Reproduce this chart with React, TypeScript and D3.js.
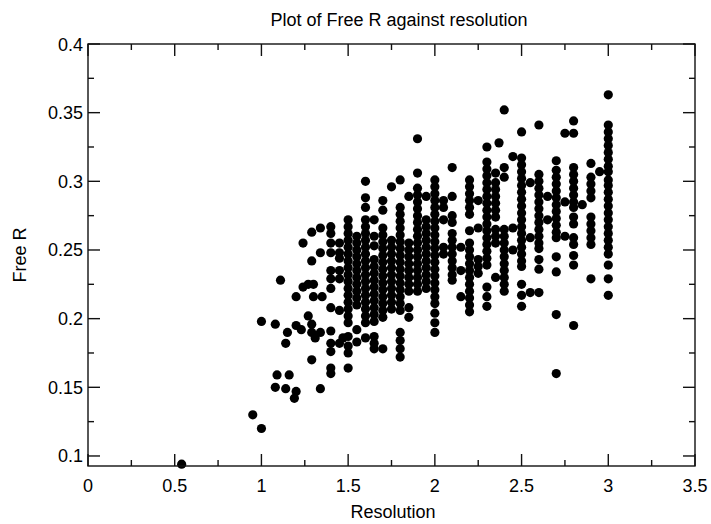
import React, { useEffect, useRef } from "react";
import * as d3 from "d3";

// isolated points [resolution, free R]
const scatterPoints: [number, number][] = [
  [0.54, 0.094], [0.95, 0.130], [1.0, 0.120],
  [1.0, 0.198], [1.08, 0.196], [1.15, 0.190], [1.14, 0.182], [1.2, 0.195], [1.23, 0.192],
  [1.11, 0.228], [1.09, 0.159], [1.16, 0.159], [1.08, 0.150], [1.14, 0.149], [1.2, 0.147],
  [1.19, 0.142], [1.34, 0.149],
  [1.24, 0.255], [1.29, 0.263], [1.34, 0.266], [1.34, 0.248], [1.29, 0.242],
  [1.24, 0.223], [1.27, 0.225], [1.3, 0.225], [1.2, 0.216], [1.3, 0.216], [1.35, 0.216],
  [1.27, 0.202], [1.29, 0.196], [1.29, 0.190], [1.34, 0.190], [1.31, 0.186], [1.29, 0.170],
  [1.45, 0.255], [1.45, 0.248], [1.45, 0.244], [1.45, 0.235], [1.45, 0.229],
  [1.45, 0.206], [1.45, 0.182], [1.47, 0.186], [2.37, 0.328],
];

// resolution of each stacked column
const stackRes = [
  1.4, 1.5, 1.55, 1.6, 1.65, 1.7, 1.75, 1.8, 1.85, 1.9, 1.95, 2.0, 2.05, 2.1, 2.15,
  2.2, 2.25, 2.3, 2.35, 2.4, 2.45, 2.5, 2.55, 2.6, 2.65, 2.7, 2.75, 2.8, 2.85, 2.9, 2.95, 3.0,
];

// free R values in each column
const stackR: number[][] = [
  [0.267, 0.262, 0.255, 0.248, 0.235, 0.229, 0.222, 0.208, 0.191, 0.182, 0.176, 0.164, 0.160],
  [0.272, 0.267, 0.262, 0.257, 0.252, 0.247, 0.242, 0.237, 0.232, 0.227, 0.222, 0.217, 0.212, 0.207, 0.202, 0.197, 0.187, 0.180, 0.175, 0.164],
  [0.260, 0.255, 0.250, 0.245, 0.240, 0.235, 0.230, 0.225, 0.220, 0.215, 0.210, 0.192, 0.183],
  [0.300, 0.288, 0.281, 0.272, 0.267, 0.262, 0.257, 0.252, 0.247, 0.242, 0.237, 0.232, 0.227, 0.222, 0.217, 0.212, 0.207, 0.202, 0.197, 0.186],
  [0.272, 0.260, 0.253, 0.243, 0.238, 0.233, 0.228, 0.223, 0.218, 0.213, 0.208, 0.203, 0.198, 0.187, 0.182, 0.178],
  [0.286, 0.279, 0.266, 0.261, 0.256, 0.251, 0.246, 0.241, 0.236, 0.231, 0.226, 0.221, 0.216, 0.211, 0.206, 0.201, 0.178],
  [0.296, 0.257, 0.252, 0.247, 0.242, 0.237, 0.232, 0.227, 0.222, 0.217, 0.212, 0.207],
  [0.301, 0.281, 0.276, 0.271, 0.266, 0.261, 0.256, 0.251, 0.246, 0.241, 0.236, 0.231, 0.226, 0.221, 0.216, 0.211, 0.206, 0.190, 0.184, 0.178, 0.172],
  [0.289, 0.255, 0.250, 0.245, 0.240, 0.235, 0.230, 0.225, 0.220, 0.208, 0.201],
  [0.331, 0.306, 0.295, 0.290, 0.285, 0.280, 0.275, 0.270, 0.265, 0.260, 0.255, 0.250, 0.245, 0.240, 0.235, 0.230, 0.225, 0.220],
  [0.289, 0.272, 0.267, 0.262, 0.257, 0.252, 0.247, 0.242, 0.237, 0.232, 0.227, 0.222],
  [0.301, 0.296, 0.291, 0.286, 0.281, 0.276, 0.271, 0.266, 0.261, 0.256, 0.251, 0.246, 0.241, 0.236, 0.231, 0.226, 0.221, 0.216, 0.211, 0.204, 0.197, 0.190],
  [0.286, 0.281, 0.272, 0.252, 0.247],
  [0.310, 0.289, 0.275, 0.270, 0.262, 0.257, 0.252, 0.247, 0.242, 0.237, 0.232, 0.228],
  [0.252, 0.235, 0.216],
  [0.301, 0.296, 0.291, 0.286, 0.281, 0.276, 0.264, 0.255, 0.250, 0.245, 0.240, 0.235, 0.230, 0.225, 0.220, 0.215, 0.210, 0.205],
  [0.286, 0.266, 0.243, 0.238, 0.233],
  [0.325, 0.314, 0.309, 0.304, 0.299, 0.294, 0.289, 0.284, 0.279, 0.274, 0.269, 0.264, 0.259, 0.254, 0.249, 0.244, 0.239, 0.223, 0.216, 0.209],
  [0.306, 0.299, 0.294, 0.289, 0.284, 0.279, 0.274, 0.265, 0.260, 0.255, 0.230],
  [0.352, 0.310, 0.303, 0.265, 0.260, 0.255, 0.250, 0.245, 0.240, 0.235, 0.230, 0.225, 0.220],
  [0.318, 0.266, 0.250],
  [0.336, 0.317, 0.312, 0.307, 0.302, 0.297, 0.292, 0.287, 0.282, 0.277, 0.272, 0.267, 0.262, 0.257, 0.252, 0.247, 0.242, 0.238, 0.225, 0.217, 0.209],
  [0.299, 0.259, 0.219],
  [0.341, 0.305, 0.300, 0.295, 0.290, 0.285, 0.280, 0.275, 0.270, 0.265, 0.260, 0.255, 0.251, 0.243, 0.236, 0.219],
  [0.289, 0.272],
  [0.315, 0.308, 0.303, 0.298, 0.293, 0.288, 0.283, 0.278, 0.273, 0.268, 0.263, 0.259, 0.245, 0.234, 0.203, 0.160],
  [0.335, 0.285, 0.260],
  [0.344, 0.335, 0.310, 0.305, 0.300, 0.295, 0.290, 0.285, 0.281, 0.274, 0.269, 0.259, 0.254, 0.246, 0.239, 0.195],
  [0.283],
  [0.313, 0.303, 0.298, 0.293, 0.288, 0.274, 0.269, 0.264, 0.259, 0.254, 0.229],
  [0.307],
  [0.363, 0.341, 0.336, 0.331, 0.326, 0.321, 0.316, 0.311, 0.307, 0.301, 0.297, 0.292, 0.287, 0.282, 0.277, 0.272, 0.267, 0.262, 0.257, 0.252, 0.247, 0.239, 0.229, 0.217],
];

const xTicks = [0, 0.5, 1, 1.5, 2, 2.5, 3, 3.5];
const yTicks = [0.1, 0.15, 0.2, 0.25, 0.3, 0.35, 0.4];

const W = 711, H = 524;
const left = 88, right = 695, top = 44, bottom = 466;

export default function App() {
  const ref = useRef<SVGSVGElement>(null);

  useEffect(() => {
    const svg = d3.select(ref.current);
    svg.selectAll("*").remove();

    const x = d3.scaleLinear().domain([0, 3.5]).range([left, right]);
    const y = d3.scaleLinear().domain([0.0927, 0.4]).range([bottom, top]);

    const points: [number, number][] = scatterPoints.slice();
    stackRes.forEach((r, i) => stackR[i].forEach(v => points.push([r, v])));

    svg.append("g")
      .selectAll("circle")
      .data(points)
      .enter()
      .append("circle")
      .attr("cx", d => x(d[0]))
      .attr("cy", d => y(d[1]))
      .attr("r", 4.6)
      .attr("fill", "#000");

    const font = "'Liberation Sans', Arial, sans-serif";
    const ax = svg.append("g").attr("stroke", "#111").attr("stroke-width", 1.4);

    // frame
    ax.append("rect")
      .attr("x", left).attr("y", top)
      .attr("width", right - left).attr("height", bottom - top)
      .attr("fill", "none");

    // ticks on all four sides, pointing inwards
    const xMinor = d3.range(0.25, 3.5, 0.5);
    xTicks.forEach(t => {
      ax.append("line").attr("x1", x(t)).attr("x2", x(t)).attr("y1", bottom).attr("y2", bottom - 12);
      ax.append("line").attr("x1", x(t)).attr("x2", x(t)).attr("y1", top).attr("y2", top + 12);
    });
    xMinor.forEach(t => {
      ax.append("line").attr("x1", x(t)).attr("x2", x(t)).attr("y1", bottom).attr("y2", bottom - 6);
      ax.append("line").attr("x1", x(t)).attr("x2", x(t)).attr("y1", top).attr("y2", top + 6);
    });

    const yMinor = [0.125, 0.175, 0.225, 0.275, 0.325, 0.375];
    yTicks.forEach(t => {
      ax.append("line").attr("y1", y(t)).attr("y2", y(t)).attr("x1", left).attr("x2", left + 12);
      ax.append("line").attr("y1", y(t)).attr("y2", y(t)).attr("x1", right).attr("x2", right - 12);
    });
    yMinor.forEach(t => {
      ax.append("line").attr("y1", y(t)).attr("y2", y(t)).attr("x1", left).attr("x2", left + 6);
      ax.append("line").attr("y1", y(t)).attr("y2", y(t)).attr("x1", right).attr("x2", right - 6);
    });

    svg.append("g")
      .selectAll("text")
      .data(xTicks)
      .enter()
      .append("text")
      .attr("x", d => x(d))
      .attr("y", 492)
      .attr("text-anchor", "middle")
      .attr("font-family", font)
      .attr("font-size", 18)
      .text(d => String(d));

    svg.append("g")
      .selectAll("text")
      .data(yTicks)
      .enter()
      .append("text")
      .attr("x", left - 5)
      .attr("y", d => y(d) + 6.5)
      .attr("text-anchor", "end")
      .attr("font-family", font)
      .attr("font-size", 18)
      .text(d => String(d));

    svg.append("text")
      .attr("x", 399).attr("y", 26)
      .attr("text-anchor", "middle")
      .attr("font-family", font)
      .attr("font-size", 18)
      .text("Plot of Free R against resolution");

    svg.append("text")
      .attr("x", 393).attr("y", 518)
      .attr("text-anchor", "middle")
      .attr("font-family", font)
      .attr("font-size", 18)
      .text("Resolution");

    svg.append("text")
      .attr("transform", "translate(26,255) rotate(-90)")
      .attr("text-anchor", "middle")
      .attr("font-family", font)
      .attr("font-size", 18)
      .text("Free R");
  }, []);

  return (
    <svg
      ref={ref}
      width={W}
      height={H}
      style={{ position: "absolute", left: 0, top: 0, background: "#fff" }}
    />
  );
}
